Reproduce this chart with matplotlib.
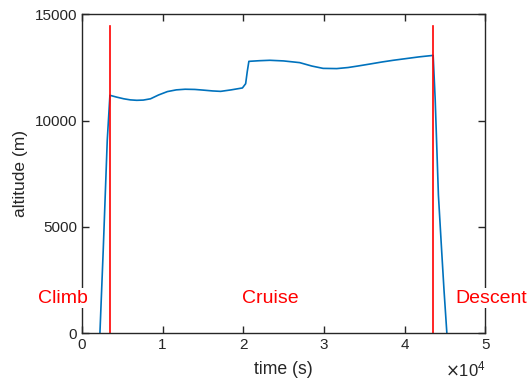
import matplotlib
matplotlib.use("Agg")
import matplotlib.pyplot as plt

plt.rcParams['font.family'] = ['Liberation Sans', 'DejaVu Sans']

# flight profile
time_s = [2230, 2640, 3140, 3470, 4300, 5200, 6000, 6790, 7600, 8500, 9500,
          10600, 11700, 12800, 14000, 15000, 16200, 17200, 18500, 19900, 20300,
          20500, 20700, 22000, 23300, 25000, 27000, 28500, 29900, 31600, 33000,
          34200, 35800, 37200, 38600, 40000, 41800, 43550, 43800, 44200, 44600,
          44900, 45250]
altitude_m = [0, 3900, 9070, 11185, 11100, 11020, 10970, 10950, 10960, 11020, 11200,
              11360, 11440, 11470, 11460, 11430, 11390, 11370, 11440, 11530, 11730,
              12300, 12780, 12810, 12830, 12800, 12720, 12560, 12450, 12440, 12490,
              12560, 12660, 12750, 12830, 12900, 12990, 13060, 11000, 6500, 3900,
              2000, 0]

phase_bounds = [3470, 43550]
phase_top = 14450
phase_names = ["Climb", "Cruise", "Descent"]
phase_label_x = [-2360, 23300, 50750]
phase_label_y = 1650

blue = (0, 0.447, 0.741)
axis_col = "#262626"

fig = plt.figure(figsize=(5.32, 3.81), dpi=100)
ax = fig.add_axes([0.154, 0.125, 0.758, 0.838])

ax.plot(time_s, altitude_m, color=blue, lw=1.2)
for xb in phase_bounds:
    ax.plot([xb, xb], [0, phase_top], color="red", lw=1.2)

for name, xl in zip(phase_names, phase_label_x):
    ax.text(xl, phase_label_y, name, color="red", fontsize=14, ha="center", va="center",
            clip_on=False, zorder=5,
            bbox=dict(facecolor="white", edgecolor="none", pad=1))

ax.set_xlim(0, 50000)
ax.set_ylim(0, 15000)
ax.set_xticks([0, 10000, 20000, 30000, 40000, 50000])
ax.set_xticklabels(["0", "1", "2", "3", "4", "5"])
ax.set_yticks([0, 5000, 10000, 15000])
ax.set_yticklabels(["0", "5000", "10000", "15000"])
ax.tick_params(direction="in", top=True, right=True, length=5, width=1,
               colors=axis_col, labelsize=11, labelcolor=axis_col)
for s in ax.spines.values():
    s.set_color(axis_col)
    s.set_linewidth(1)

ax.set_xlabel("time (s)", fontsize=12.7, color=axis_col, labelpad=6)
ax.set_ylabel("altitude (m)", fontsize=12.5, color=axis_col, labelpad=5)
ax.text(0.952, (333.5 - 377) / 319.5, r"$\times\mathregular{10^4}$", transform=ax.transAxes,
        ha="center", va="baseline", fontsize=12, color=axis_col)

fig.savefig("out.png", dpi=100)
